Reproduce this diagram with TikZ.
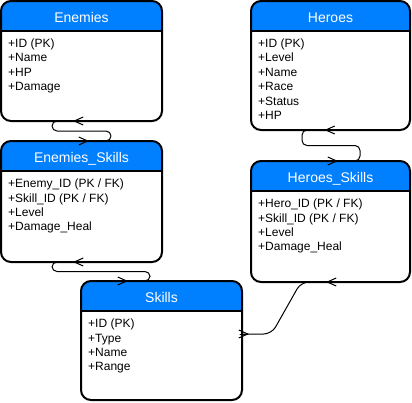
\documentclass[tikz,border=0pt]{standalone}
\usepackage{fontspec}
\setmainfont{Liberation Sans}
\usetikzlibrary{arrows.meta}
\definecolor{hdrblue}{HTML}{007FFF}
\tikzset{
  tbl/.style={rectangle, anchor=north west, fill=white, inner sep=0pt, outer sep=0pt, rounded corners=10pt},
  tblline/.style={line width=2pt, black},
  tbltitle/.style={anchor=base, inner sep=0pt, text=white, font=\fontsize{14}{16.8}\selectfont},
  tblbody/.style={anchor=north west, inner sep=0pt, align=left, font=\fontsize{12}{14.4}\selectfont, execute at begin node={\rule{0pt}{8.6pt}}},
  rel/.style={line width=1pt, rounded corners=5pt},
  barb/.style={line width=1pt, -{Straight Barb[length=9pt,width=8pt]}}
}
% one entity box: name, x, y, width, height, title, fields
\newcommand{\ertable}[7]{%
  \node[tbl, minimum width=#4, minimum height=#5] (#1) at (#2,#3) {};
  \begin{scope}
    \clip (#1.north west) rectangle ([yshift=-30pt]#1.north east);
    \fill[hdrblue, rounded corners=10pt] (#1.south west) rectangle (#1.north east);
  \end{scope}
  \draw[tblline] ([yshift=-30pt]#1.north west) -- ([yshift=-30pt]#1.north east);
  \draw[tblline, rounded corners=10pt] (#1.south west) rectangle (#1.north east);
  \node[tbltitle] (#1-t) at ([yshift=-21pt]#1.north) {#6};
  \node[tblbody] (#1-f) at ([shift={(7pt,-37.7pt)}]#1.north west) {#7};
}
\begin{document}
\begin{tikzpicture}[x=1pt, y=-1pt, line join=round, line cap=round]
  \useasboundingbox (0,0) rectangle (412,402);
  % tables
  \ertable{en}{1}{1}{161pt}{120pt}{Enemies}{+ID (PK)\\+Name\\+HP\\+Damage}
  \ertable{es}{1}{141}{161pt}{121pt}{Enemies\_Skills}{+Enemy\_ID (PK / FK)\\+Skill\_ID (PK / FK)\\+Level\\+Damage\_Heal}
  \ertable{sk}{81}{281}{161pt}{119pt}{Skills}{+ID (PK)\\+Type\\+Name\\+Range}
  \ertable{he}{251}{1}{159pt}{129pt}{Heroes}{+ID (PK)\\+Level\\+Name\\+Race\\+Status\\+HP}
  \ertable{hs}{251}{161}{159pt}{121pt}{Heroes\_Skills}{+Hero\_ID (PK / FK)\\+Skill\_ID (PK / FK)\\+Level\\+Damage\_Heal}
  % links
  \coordinate (c2t) at ([xshift=-41.5pt]sk.north);
  \coordinate (c4s) at ([yshift=6.5pt]sk.east);
  \draw[rel] (en.south) -- ++(-29.5,0) -- ++(0,10) -- ++(59,0) |- (es.north);
  \draw[barb] ([xshift=1pt]en.south) -- ([xshift=-8.5pt]en.south);
  \draw[barb] ([xshift=-2pt]es.north) -- ([xshift=7.5pt]es.north);
  \draw[rel] (es.south) -- ++(-29.5,0) -- ++(0,9.5) -| ([xshift=30pt]c2t) -- (c2t);
  \draw[barb] ([xshift=1pt]es.south) -- ([xshift=-8.5pt]es.south);
  \draw[barb] ([xshift=-2pt]c2t) -- ([xshift=8pt]c2t);
  \draw[rel] (he.south) -- ++(-28.5,0) -- ++(0,15.5) -- ++(58,0) |- (hs.north);
  \draw[barb] ([xshift=3pt]he.south) -- ([xshift=-6pt]he.south);
  \draw[barb] ([xshift=-2pt]hs.north) -- ([xshift=7.5pt]hs.north);
  \draw[rel, rounded corners=8pt] (c4s) -- ++(29.6,0) -- ([xshift=-29.5pt]hs.south) -- (hs.south);
  \draw[barb] ([xshift=-2pt]c4s) -- ([xshift=7pt]c4s);
  \draw[barb] ([xshift=4pt]hs.south) -- ([xshift=-4.5pt]hs.south);
\end{tikzpicture}
\end{document}
